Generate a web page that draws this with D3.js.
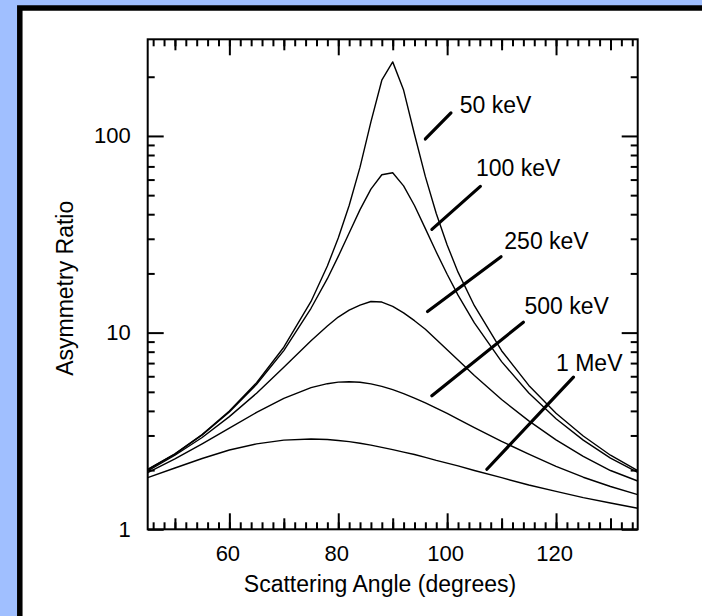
<!DOCTYPE html>
<html>
<head>
<meta charset="utf-8">
<script src="https://cdn.jsdelivr.net/npm/d3@7"></script>
<style>
  body { margin: 0; background: #a0bfff; }
  svg { display: block; }
  .annotation { font-family: "Liberation Sans", Arial, sans-serif; font-size: 23px; fill: black; }
</style>
</head>
<body>
<div id="chart-container"></div>
<script>
// scattering angle (degrees)
const angles = [45, 50, 55, 60, 65, 70, 75, 78, 80, 82, 84, 86, 88, 90, 92, 94, 96, 98, 100, 102, 105, 110, 115, 120, 125, 130, 135];

// asymmetry ratio
const ratio50keV  = [2.02, 2.42, 3.03, 3.99, 5.56, 8.43, 14.4, 21.8, 30.3, 44.3, 69.4, 118, 192, 238, 171, 102, 62.1, 40.3, 27.9, 20.3, 13.7, 8.09, 5.39, 3.89, 2.98, 2.38, 1.99];
const ratio100keV = [2.01, 2.41, 3.02, 3.95, 5.46, 8.10, 13.3, 18.8, 24.4, 32.1, 42.2, 53.7, 63.5, 65.0, 55.7, 44.3, 33.8, 25.7, 19.8, 15.5, 11.2, 7.12, 4.93, 3.65, 2.84, 2.30, 1.95];
const ratio250keV = [1.98, 2.38, 2.93, 3.74, 4.92, 6.66, 9.10, 10.8, 12.0, 13.0, 13.8, 14.4, 14.3, 13.6, 12.6, 11.5, 10.4, 9.23, 8.19, 7.26, 6.06, 4.57, 3.56, 2.85, 2.35, 1.99, 1.76];
const ratio500keV = [1.94, 2.28, 2.72, 3.27, 3.93, 4.63, 5.25, 5.50, 5.60, 5.63, 5.59, 5.49, 5.33, 5.13, 4.90, 4.65, 4.39, 4.13, 3.88, 3.63, 3.29, 2.80, 2.41, 2.09, 1.84, 1.65, 1.50];
const ratio1MeV   = [1.83, 2.05, 2.29, 2.53, 2.72, 2.84, 2.88, 2.86, 2.83, 2.79, 2.74, 2.68, 2.61, 2.54, 2.47, 2.40, 2.32, 2.24, 2.17, 2.10, 1.99, 1.83, 1.68, 1.56, 1.45, 1.36, 1.28];

const seriesNames = ["50 keV", "100 keV", "250 keV", "500 keV", "1 MeV"];
const seriesValues = [ratio50keV, ratio100keV, ratio250keV, ratio500keV, ratio1MeV];

// leader lines: [angle, ratio] of both ends, and where the label sits
const leaderStart = [[96.0, 96.5], [97.2, 33.5], [96.4, 12.8], [97.2, 4.77], [107.3, 2.02]];
const leaderEnd   = [[100.7, 131], [106.1, 55.4], [109.9, 24.3], [114.0, 11.3], [123.2, 5.94]];
const labelAnchor = [[102.3, 130.6], [105.3, 62.3], [110.5, 26.5], [114.2, 12.5], [120.0, 6.40]];

// axis ticks
const xDomain = [45, 135];
const yDomain = [1, 310];
const xMajorTicks = [60, 80, 100, 120];
const xMediumTicks = [50, 70, 90, 110, 130];
const xMinorTicks = d3.range(46, 135, 2);
const yMajorTicks = [1, 10, 100];
const yMinorTicks = [2, 3, 4, 5, 6, 7, 8, 9, 20, 30, 40, 50, 60, 70, 80, 90, 200];

const width = 702;
const height = 616;
const plotLeft = 147.7, plotRight = 637.7, plotTop = 39.3, plotBottom = 529.3;

const svg = d3.select("#chart-container").append("svg")
              .attr("width", width)
              .attr("height", height);

// white panel with thick black frame, running off the right and bottom edges
svg.append("rect")
   .attr("x", 19.8)
   .attr("y", 8)
   .attr("width", 800)
   .attr("height", 800)
   .attr("fill", "white")
   .attr("stroke", "black")
   .attr("stroke-width", 5.5);

const x = d3.scaleLinear().domain(xDomain).range([plotLeft, plotRight]);
const y = d3.scaleLog().domain(yDomain).range([plotBottom, plotTop]);

function addAxis(axisFn, scale, ticks, size, transform, labelled, padding) {
    const axis = axisFn(scale)
                   .tickValues(ticks)
                   .tickSizeInner(-size)
                   .tickSizeOuter(0)
                   .tickPadding(padding || 0)
                   .tickFormat(labelled ? d3.format("d") : "");
    const g = svg.append("g")
                 .attr("transform", transform)
                 .call(axis);
    g.select(".domain").remove();
    g.selectAll(".tick line").attr("stroke", "black").attr("stroke-width", 2);
    g.selectAll(".tick text")
     .attr("class", "annotation")
     .attr("fill", "black")
     .style("font-size", "22px")
     .style("font-family", "'Liberation Sans', Arial, sans-serif");
    return g;
}

// bottom and top
addAxis(d3.axisBottom, x, xMajorTicks, 16, `translate(0,${plotBottom})`, true, 16)
    .selectAll(".tick text").attr("dx", -2);
addAxis(d3.axisBottom, x, xMediumTicks, 11, `translate(0,${plotBottom})`, false);
addAxis(d3.axisBottom, x, xMinorTicks, 7, `translate(0,${plotBottom})`, false);
addAxis(d3.axisTop, x, xMajorTicks, 16, `translate(0,${plotTop})`, false);
addAxis(d3.axisTop, x, xMediumTicks, 11, `translate(0,${plotTop})`, false);
addAxis(d3.axisTop, x, xMinorTicks, 7, `translate(0,${plotTop})`, false);

// left and right
addAxis(d3.axisLeft, y, yMajorTicks, 16, `translate(${plotLeft},0)`, true, 17);
addAxis(d3.axisLeft, y, yMinorTicks, 7, `translate(${plotLeft},0)`, false);
addAxis(d3.axisRight, y, yMajorTicks, 16, `translate(${plotRight},0)`, false);
addAxis(d3.axisRight, y, yMinorTicks, 7, `translate(${plotRight},0)`, false);

// frame
svg.append("rect")
   .attr("x", plotLeft)
   .attr("y", plotTop)
   .attr("width", plotRight - plotLeft)
   .attr("height", plotBottom - plotTop)
   .attr("fill", "none")
   .attr("stroke", "black")
   .attr("stroke-width", 2);

const line = d3.line()
               .x((d, i) => x(angles[i]))
               .y(d => y(d));

const plotArea = svg.append("g");
for (let i = 0; i < seriesValues.length; i++) {
    plotArea.append("path")
            .datum(seriesValues[i])
            .attr("d", line)
            .attr("fill", "none")
            .attr("stroke", "black")
            .attr("stroke-width", 1.4)
            .attr("stroke-linejoin", "round");

    plotArea.append("line")
            .attr("x1", x(leaderStart[i][0]))
            .attr("y1", y(leaderStart[i][1]))
            .attr("x2", x(leaderEnd[i][0]))
            .attr("y2", y(leaderEnd[i][1]))
            .attr("stroke", "black")
            .attr("stroke-width", 3.2)
            .attr("stroke-linecap", "round");

    plotArea.append("text")
            .attr("class", "annotation")
            .attr("x", x(labelAnchor[i][0]))
            .attr("y", y(labelAnchor[i][1]))
            .text(seriesNames[i]);
}

svg.append("text")
   .attr("class", "annotation")
   .attr("text-anchor", "middle")
   .attr("x", 380)
   .attr("y", 592)
   .text("Scattering Angle (degrees)");

svg.append("text")
   .attr("class", "annotation")
   .attr("text-anchor", "middle")
   .attr("transform", `translate(73.3,${(plotTop + plotBottom) / 2 + 4}) rotate(-90)`)
   .text("Asymmetry Ratio");
</script>
</body>
</html>
